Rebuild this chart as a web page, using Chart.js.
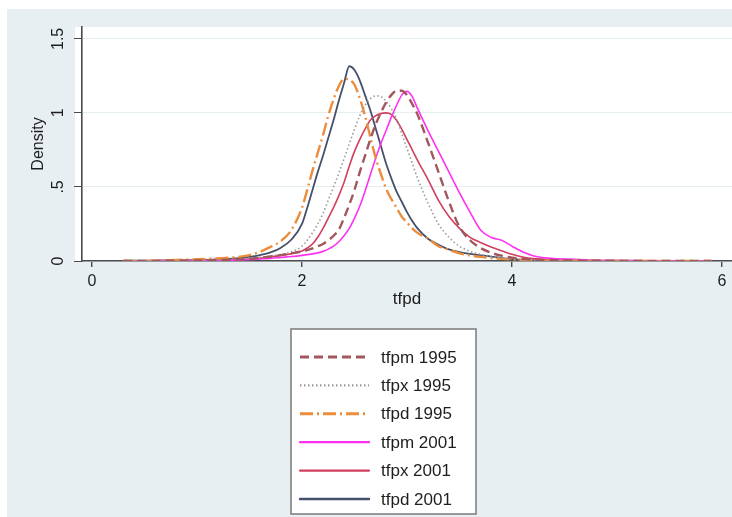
<!DOCTYPE html>
<html>
<head>
<meta charset="utf-8">
<script src="https://cdn.jsdelivr.net/npm/chart.js@4.4.1/dist/chart.umd.min.js"></script>
<style>
  html, body { margin: 0; padding: 0; background: #ffffff; }
  #wrap { position: relative; width: 732px; height: 517px; }
</style>
</head>
<body>
<div id="wrap"><canvas id="densityChart" width="732" height="517"></canvas></div>
<script>
// evaluation grid for the kernel density curves (tfpd)
const xGrid = [0.3, 0.6, 1.0, 1.3, 1.5, 1.6, 1.7, 1.8, 1.9, 2.0,
    2.05, 2.1, 2.15, 2.2, 2.25, 2.3, 2.35, 2.4, 2.45, 2.5,
    2.55, 2.6, 2.65, 2.7, 2.75, 2.8, 2.85, 2.9, 2.95, 3.0,
    3.05, 3.1, 3.2, 3.3, 3.4, 3.5, 3.6, 3.7, 3.8, 3.9,
    4.0, 4.1, 4.2, 4.4, 4.6, 4.8, 5.0, 5.5, 5.9];

const tfpm1995 = [0, 0.001, 0.003, 0.008, 0.015, 0.022, 0.03, 0.04, 0.052, 0.065,
    0.074, 0.085, 0.1, 0.115, 0.14, 0.17, 0.21, 0.29, 0.38, 0.48,
    0.6, 0.71, 0.82, 0.92, 1.0, 1.07, 1.12, 1.15, 1.15, 1.12,
    1.06, 0.99, 0.8, 0.6, 0.4, 0.23, 0.14, 0.088, 0.056, 0.036,
    0.023, 0.015, 0.01, 0.005, 0.003, 0.002, 0.001, 0, 0];

const tfpx1995 = [0, 0.001, 0.004, 0.01, 0.018, 0.025, 0.034, 0.045, 0.062, 0.1,
    0.14, 0.19, 0.25, 0.32, 0.41, 0.5, 0.59, 0.69, 0.79, 0.89,
    0.98, 1.05, 1.095, 1.115, 1.11, 1.08, 1.03, 0.96, 0.86, 0.76,
    0.66, 0.56, 0.39, 0.25, 0.16, 0.1, 0.065, 0.045, 0.03, 0.02,
    0.013, 0.008, 0.005, 0.003, 0.002, 0.001, 0, 0, 0];

const tfpd1995 = [0, 0.002, 0.012, 0.022, 0.04, 0.062, 0.095, 0.135, 0.21, 0.36,
    0.48, 0.61, 0.73, 0.85, 0.98, 1.09, 1.18, 1.23, 1.225, 1.19,
    1.1, 0.98, 0.84, 0.7, 0.59, 0.49, 0.42, 0.36, 0.3, 0.26,
    0.22, 0.19, 0.15, 0.1, 0.075, 0.052, 0.038, 0.028, 0.02, 0.014,
    0.01, 0.007, 0.005, 0.003, 0.002, 0.001, 0.001, 0, 0];

const tfpm2001 = [0, 0.001, 0.002, 0.005, 0.01, 0.014, 0.018, 0.024, 0.03, 0.038,
    0.043, 0.048, 0.055, 0.065, 0.08, 0.1, 0.13, 0.17, 0.22, 0.29,
    0.37, 0.47, 0.58, 0.69, 0.79, 0.88, 0.97, 1.05, 1.12, 1.145,
    1.11, 1.03, 0.88, 0.74, 0.6, 0.46, 0.33, 0.21, 0.16, 0.14,
    0.1, 0.062, 0.036, 0.016, 0.012, 0.005, 0.003, 0.001, 0];

const tfpx2001 = [0.001, 0.002, 0.004, 0.008, 0.013, 0.018, 0.028, 0.038, 0.05, 0.068,
    0.088, 0.115, 0.16, 0.22, 0.29, 0.36, 0.44, 0.53, 0.64, 0.74,
    0.82, 0.89, 0.95, 0.98, 0.995, 1.0, 0.99, 0.95, 0.89, 0.82,
    0.75, 0.68, 0.55, 0.41, 0.3, 0.22, 0.16, 0.125, 0.095, 0.07,
    0.045, 0.027, 0.016, 0.008, 0.004, 0.002, 0.001, 0, 0];

const tfpd2001 = [0.002, 0.003, 0.006, 0.014, 0.028, 0.04, 0.058, 0.09, 0.145, 0.25,
    0.36, 0.48, 0.6, 0.71, 0.83, 0.95, 1.08, 1.2, 1.315, 1.29,
    1.22, 1.12, 1.02, 0.9, 0.78, 0.66, 0.56, 0.47, 0.4, 0.33,
    0.27, 0.22, 0.15, 0.11, 0.078, 0.06, 0.048, 0.038, 0.03, 0.02,
    0.013, 0.009, 0.006, 0.004, 0.003, 0.002, 0.002, 0.001, 0];

const xTicks = [0, 2, 4, 6];
const yTicks = [0, 0.5, 1, 1.5];
const yTickLabels = ['0', '.5', '1', '1.5'];

const FONT = '"Liberation Sans", Arial, Helvetica, sans-serif';

function pts(ys) {
    return xGrid.map(function (x, i) { return { x: x, y: ys[i] }; });
}

function curve(label, ys, color, width, dash) {
    return {
        label: label,
        data: pts(ys),
        borderColor: color,
        borderWidth: width,
        borderDash: dash,
        borderCapStyle: dash.length ? 'butt' : 'round',
        pointRadius: 0,
        fill: false,
        cubicInterpolationMode: 'monotone'
    };
}

// grey outer panel + white plot region, like a stata s2color scheme
const backdrop = {
    id: 'backdrop',
    beforeDraw: function (chart) {
        const c = chart.ctx, a = chart.chartArea;
        c.save();
        c.fillStyle = '#ffffff';
        c.fillRect(0, 0, chart.width, chart.height);
        c.fillStyle = '#e8eff2';
        c.fillRect(7, 9, chart.width - 7, chart.height - 9);
        c.fillStyle = '#ffffff';
        c.fillRect(a.left - 7, a.top, a.right - a.left + 7, a.bottom - a.top);
        c.restore();
    }
};

// vertical y tick labels and the boxed legend
const extras = {
    id: 'extras',
    afterDraw: function (chart) {
        const c = chart.ctx, ys = chart.scales.y;
        c.save();
        c.fillStyle = '#1e1e1e';
        c.font = '16px ' + FONT;
        c.textAlign = 'center';
        c.textBaseline = 'middle';
        yTicks.forEach(function (v, i) {
            c.save();
            c.translate(59, ys.getPixelForValue(v));
            c.rotate(-Math.PI / 2);
            c.fillText(yTickLabels[i], 0, 0);
            c.restore();
        });

        const bx = 291, by = 329, bw = 185, bh = 185;
        c.fillStyle = '#ffffff';
        c.fillRect(bx, by, bw, bh);
        c.strokeStyle = '#7a7a7a';
        c.lineWidth = 1.5;
        c.strokeRect(bx, by, bw, bh);

        c.font = '17px ' + FONT;
        c.textAlign = 'left';
        chart.data.datasets.forEach(function (ds, i) {
            const y = 357 + i * 28.4;
            c.beginPath();
            c.strokeStyle = ds.borderColor;
            c.lineWidth = ds.borderWidth + 0.6;
            c.setLineDash(ds.borderDash);
            c.lineCap = ds.borderDash.length ? 'butt' : 'round';
            c.moveTo(300, y);
            c.lineTo(369, y);
            c.stroke();
            c.setLineDash([]);
            c.fillStyle = '#1e1e1e';
            c.fillText(ds.label, 381, y + 1);
        });
        c.restore();
    }
};

const ctx = document.getElementById('densityChart').getContext('2d');
const densityChart = new Chart(ctx, {
    type: 'line',
    data: {
        datasets: [
            curve('tfpm 1995', tfpm1995, '#a3565c', 2.4, [9, 5]),
            curve('tfpx 1995', tfpx1995, '#9a9a9a', 1.6, [1.5, 2.5]),
            curve('tfpd 1995', tfpd1995, '#ec8d3c', 2.4, [13, 4, 2, 4]),
            curve('tfpm 2001', tfpm2001, '#ff30f0', 1.6, []),
            curve('tfpx 2001', tfpx2001, '#d23f5e', 1.6, []),
            curve('tfpd 2001', tfpd2001, '#46506b', 1.8, [])
        ]
    },
    options: {
        responsive: false,
        animation: false,
        layout: { padding: { left: 29, top: 27, right: 0, bottom: 207 } },
        plugins: {
            legend: { display: false },
            tooltip: { enabled: false }
        },
        scales: {
            x: {
                type: 'linear',
                min: -0.095,
                max: 6.095,
                afterBuildTicks: function (s) { s.ticks = xTicks.map(function (v) { return { value: v }; }); },
                afterFit: function (s) { s.height = 49; },
                grid: { drawOnChartArea: false, drawTicks: true, tickLength: 6, tickColor: '#4a4a4a', lineWidth: 1.4 },
                border: { display: true, color: '#4a4a4a', width: 1.6 },
                ticks: { color: '#1e1e1e', font: { family: FONT, size: 16 }, padding: 5, maxRotation: 0 },
                title: { display: true, text: 'tfpd', color: '#1e1e1e', font: { family: FONT, size: 17 }, padding: 0 }
            },
            y: {
                type: 'linear',
                min: 0,
                max: 1.58,
                afterBuildTicks: function (s) { s.ticks = yTicks.map(function (v) { return { value: v }; }); },
                afterFit: function (s) { s.width = 53; },
                grid: { drawOnChartArea: true, color: '#e4edf0', lineWidth: 1, drawTicks: true, tickLength: 8, tickColor: '#4a4a4a' },
                border: { display: true, color: '#4a4a4a', width: 1.6 },
                ticks: { display: false },
                title: { display: true, text: 'Density', color: '#1e1e1e', font: { family: FONT, size: 16 }, padding: 0 }
            }
        }
    },
    plugins: [backdrop, extras]
});
</script>
</body>
</html>
